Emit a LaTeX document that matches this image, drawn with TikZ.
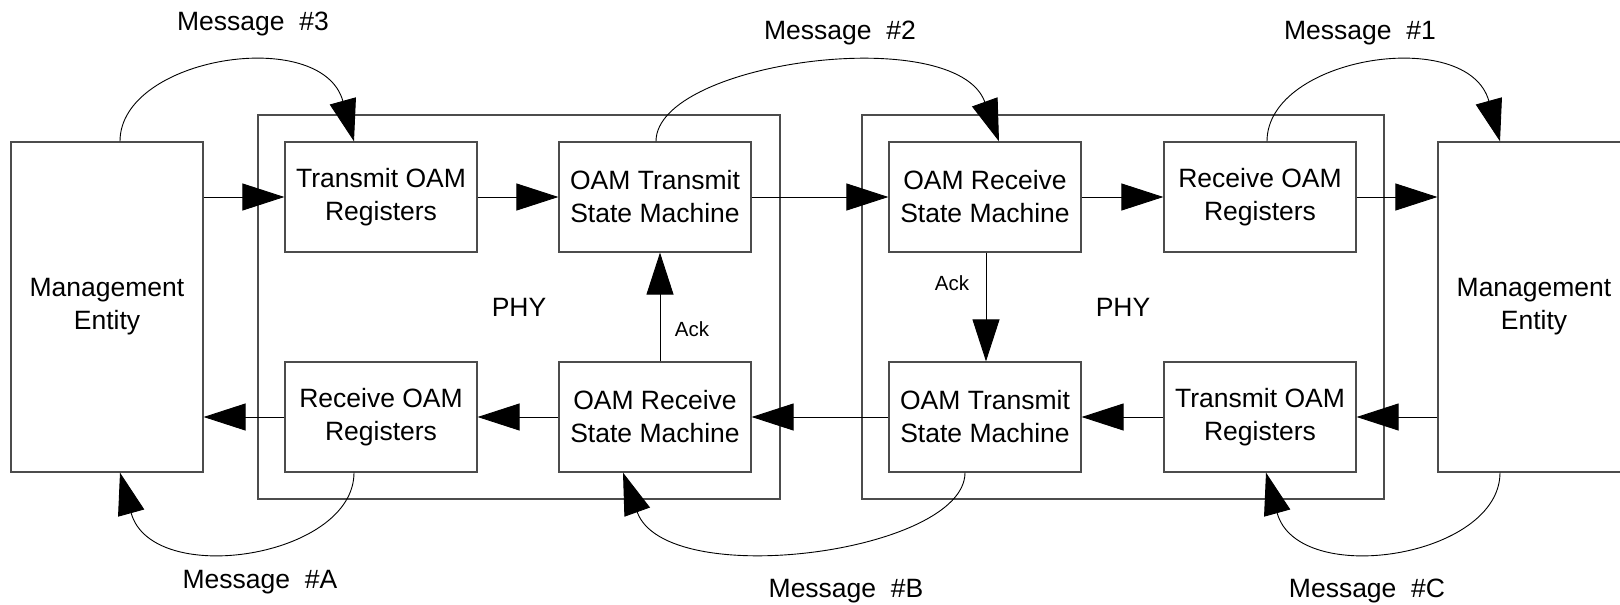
\documentclass[tikz,border=0pt]{standalone}
\usepackage{fontspec}
\setmainfont{Liberation Sans}
\usetikzlibrary{arrows.meta}
\begin{document}
\begin{tikzpicture}[x=1pt,y=-1pt,
  box/.style={draw=black!70, line width=1.2pt, minimum width=192pt, minimum height=110pt, inner sep=0pt, align=center, font=\fontsize{26.5pt}{33pt}\selectfont},
  mebox/.style={box, minimum height=330pt},
  phybox/.style={draw=black!70, line width=1.2pt, minimum width=522pt, minimum height=384pt, inner sep=0pt, font=\fontsize{26.5pt}{33pt}\selectfont},
  conn/.style={draw=black, line width=0.9pt, -{Triangle[length=42pt,width=27pt]}},
  msg/.style={font=\fontsize{26.5pt}{33pt}\selectfont, inner sep=0pt},
  acklbl/.style={font=\fontsize{20.5pt}{24pt}\selectfont, inner sep=0pt}]
\clip (0,0) rectangle (1620,605);
\fill[white] (0,0) rectangle (1620,605);
% PHY containers
\node[phybox] (phy1) at (519,307) {PHY};
\node[phybox] (phy2) at (1123,307) {PHY};
% management entities
\node[mebox] (me1) at (107,307) {Management\\Entity};
\node[mebox] (me2) at (1534,307) {Management\\Entity};
% inner boxes
\node[box] (txr1) at (381,197) {Transmit OAM\\Registers};
\node[box] (txsm1) at (655,197) {OAM Transmit\\State Machine};
\node[box] (rxsm2) at (985,197) {OAM Receive\\State Machine};
\node[box] (rxr2) at (1260,197) {Receive OAM\\Registers};
\node[box] (rxr1) at (381,417) {Receive OAM\\Registers};
\node[box] (rxsm1) at (655,417) {OAM Receive\\State Machine};
\node[box] (txsm2) at (985,417) {OAM Transmit\\State Machine};
\node[box] (txr2) at (1260,417) {Transmit OAM\\Registers};
% top row connectors
\draw[conn] (me1.east |- txr1.west) -- (txr1.west);
\draw[conn] (txr1) -- (txsm1);
\draw[conn] (txsm1) -- (rxsm2);
\draw[conn] (rxsm2) -- (rxr2);
\draw[conn] (rxr2.east) -- (rxr2.east -| me2.west);
% bottom row connectors
\draw[conn] (txr2.east -| me2.west) -- (txr2.east);
\draw[conn] (txr2) -- (txsm2);
\draw[conn] (txsm2) -- (rxsm1);
\draw[conn] (rxsm1) -- (rxr1);
\draw[conn] (rxr1.west) -- (rxr1.west -| me1.east);
% Ack connectors
\draw[conn] ([xshift=5pt]rxsm1.north) -- ([xshift=5pt]txsm1.south);
\draw[conn] ([xshift=1pt]rxsm2.south) -- ([xshift=1pt]txsm2.north);
\node[acklbl] (ack1) at (692,329) {Ack};
\node[acklbl] (ack2) at (952,283) {Ack};
% message curves (top)
\draw[conn] ([xshift=13pt]me1.north) .. controls +(0,-85) and +(-32,-116) .. ([xshift=-27pt]txr1.north);
\draw[conn] ([xshift=1pt]txsm1.north) .. controls +(0,-80) and +(-43,-119.5) .. ([xshift=14pt]rxsm2.north);
\draw[conn] ([xshift=7pt]rxr2.north) .. controls +(0,-85) and +(-32,-116) .. ([xshift=-34pt]me2.north);
% message curves (bottom)
\draw[conn] ([xshift=-27pt]rxr1.south) .. controls +(0,85) and +(32,116) .. ([xshift=13pt]me1.south);
\draw[conn] ([xshift=-20pt]txsm2.south) .. controls +(0,80) and +(43,119.5) .. ([xshift=-32pt]rxsm1.south);
\draw[conn] ([xshift=-34pt]me2.south) .. controls +(0,85) and +(32,116) .. ([xshift=6pt]txr2.south);
% message labels
\node[msg] (m3) at (253,24) {Message\ \ \#3};
\node[msg] (m2) at (840,33) {Message\ \ \#2};
\node[msg] (m1) at (1360,33) {Message\ \ \#1};
\node[msg] (ma) at (260,582) {Message\ \ \#A};
\node[msg] (mb) at (846,591) {Message\ \ \#B};
\node[msg] (mc) at (1367,591) {Message\ \ \#C};
\end{tikzpicture}
\end{document}
